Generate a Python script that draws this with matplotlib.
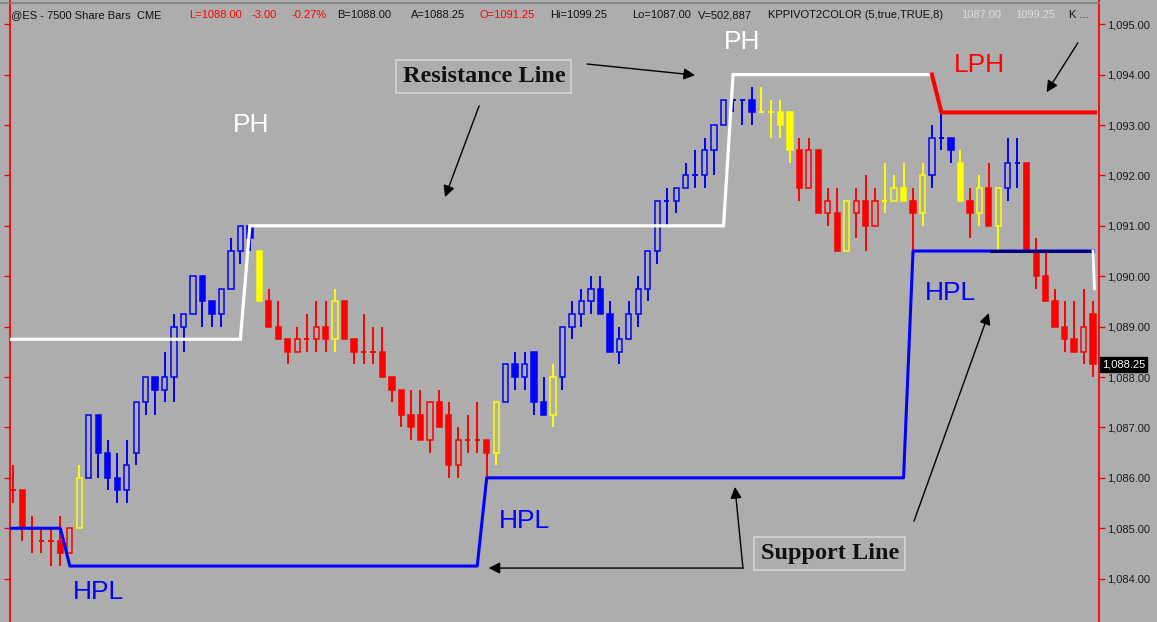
import numpy as np
import matplotlib.pyplot as plt
from matplotlib.patches import Rectangle
from matplotlib.lines import Line2D
from matplotlib import transforms

# bars (7500 share bars, @ES)
opens = [1085.75, 1085.75, 1085.0, 1084.75, 1084.75, 1084.75, 1084.5, 1085.0, 1086.0, 1087.25,
         1086.5, 1086.0, 1085.75, 1086.5, 1087.5, 1088.0, 1087.75, 1088.0, 1089.0, 1089.25,
         1090.0, 1089.5, 1089.25, 1089.75, 1090.5, 1091.0, 1090.5, 1089.5, 1089.0, 1088.75,
         1088.5, 1088.75, 1088.75, 1089.0, 1088.75, 1089.5, 1088.75, 1088.5, 1088.5, 1088.5,
         1088.0, 1087.75, 1087.25, 1087.25, 1086.75, 1087.5, 1087.25, 1086.25, 1086.75, 1086.75,
         1086.75, 1086.5, 1087.5, 1088.25, 1088.0, 1088.5, 1087.5, 1087.25, 1088.0, 1089.0,
         1089.25, 1089.5, 1089.75, 1089.25, 1088.5, 1088.75, 1089.25, 1089.75, 1090.5, 1091.5,
         1091.5, 1091.75, 1092.0, 1092.0, 1092.5, 1093.0, 1093.5, 1093.5, 1093.5, 1093.25,
         1093.25, 1093.25, 1093.25, 1092.5, 1091.75, 1092.5, 1091.25, 1091.25, 1090.5, 1091.25,
         1091.5, 1091.0, 1091.5, 1091.5, 1091.75, 1091.5, 1091.25, 1092.0, 1092.75, 1092.75,
         1092.25, 1091.5, 1091.25, 1091.75, 1091.0, 1091.75, 1092.25, 1092.25, 1090.5, 1090.0,
         1089.5, 1089.0, 1088.75, 1088.5, 1089.25]
highs = [1086.25, 1085.75, 1085.25, 1085.0, 1085.0, 1085.25, 1085.0, 1086.25, 1087.25, 1087.25,
         1086.75, 1086.5, 1086.75, 1087.5, 1088.0, 1088.0, 1088.5, 1089.25, 1089.25, 1090.0,
         1090.0, 1089.5, 1089.75, 1090.75, 1091.0, 1091.0, 1090.5, 1089.75, 1089.5, 1088.75,
         1089.0, 1089.25, 1089.5, 1089.5, 1089.75, 1089.5, 1088.75, 1089.25, 1089.0, 1089.0,
         1088.0, 1087.75, 1087.75, 1087.75, 1087.5, 1087.75, 1087.5, 1087.0, 1087.25, 1087.5,
         1086.75, 1087.5, 1088.25, 1088.5, 1088.5, 1088.5, 1088.0, 1088.25, 1089.0, 1089.5,
         1089.75, 1090.0, 1090.0, 1089.5, 1089.0, 1089.5, 1090.0, 1090.5, 1091.5, 1091.75,
         1091.75, 1092.25, 1092.5, 1092.75, 1093.0, 1093.5, 1093.5, 1093.5, 1093.75, 1093.75,
         1093.5, 1093.5, 1093.25, 1092.75, 1092.75, 1092.5, 1091.75, 1091.75, 1091.5, 1091.75,
         1092.0, 1091.75, 1092.25, 1092.0, 1092.25, 1091.75, 1092.25, 1093.0, 1093.25, 1092.75,
         1092.5, 1091.75, 1092.0, 1092.25, 1091.75, 1092.75, 1092.75, 1092.25, 1090.75, 1090.5,
         1089.75, 1089.5, 1089.5, 1089.75, 1089.5]
lows = [1085.5, 1084.75, 1084.5, 1084.5, 1084.25, 1084.25, 1084.5, 1085.0, 1086.0, 1086.0,
        1085.75, 1085.5, 1085.5, 1086.25, 1087.25, 1087.25, 1087.5, 1087.5, 1088.5, 1089.25,
        1089.0, 1089.0, 1089.0, 1089.75, 1090.25, 1090.5, 1089.5, 1089.0, 1088.75, 1088.25,
        1088.5, 1088.5, 1088.5, 1088.5, 1088.5, 1088.75, 1088.25, 1088.25, 1088.25, 1088.0,
        1087.5, 1087.0, 1086.75, 1086.75, 1086.5, 1087.0, 1086.0, 1086.0, 1086.5, 1086.5,
        1086.0, 1086.25, 1087.5, 1087.75, 1087.75, 1087.25, 1087.25, 1087.0, 1087.75, 1088.75,
        1089.0, 1089.25, 1089.25, 1088.5, 1088.25, 1088.75, 1089.0, 1089.5, 1090.25, 1091.0,
        1091.25, 1091.75, 1091.75, 1091.75, 1092.0, 1093.0, 1093.25, 1093.0, 1093.0, 1093.25,
        1092.75, 1092.75, 1092.25, 1091.5, 1091.75, 1091.25, 1091.0, 1090.5, 1090.5, 1090.75,
        1090.5, 1091.0, 1091.25, 1091.5, 1091.5, 1090.5, 1091.0, 1091.75, 1092.5, 1092.25,
        1091.5, 1090.75, 1091.0, 1091.0, 1090.5, 1091.5, 1091.75, 1090.5, 1089.75, 1089.5,
        1089.0, 1088.5, 1088.5, 1088.25, 1088.0]
closes = [1085.75, 1085.0, 1085.0, 1084.75, 1084.75, 1084.5, 1085.0, 1086.0, 1087.25, 1086.5,
          1086.0, 1085.75, 1086.25, 1087.5, 1088.0, 1087.75, 1088.0, 1089.0, 1089.25, 1090.0,
          1089.5, 1089.25, 1089.75, 1090.5, 1091.0, 1090.75, 1089.5, 1089.0, 1088.75, 1088.5,
          1088.75, 1088.75, 1089.0, 1088.75, 1089.5, 1088.75, 1088.5, 1088.5, 1088.5, 1088.0,
          1087.75, 1087.25, 1087.0, 1086.75, 1087.5, 1087.0, 1086.25, 1086.75, 1086.75, 1086.75,
          1086.5, 1087.5, 1088.25, 1088.0, 1088.25, 1087.5, 1087.25, 1088.0, 1089.0, 1089.25,
          1089.5, 1089.75, 1089.25, 1088.5, 1088.75, 1089.25, 1089.75, 1090.5, 1091.5, 1091.5,
          1091.75, 1092.0, 1092.0, 1092.5, 1093.0, 1093.5, 1093.5, 1093.5, 1093.25, 1093.25,
          1093.25, 1093.0, 1092.5, 1091.75, 1092.5, 1091.25, 1091.5, 1090.5, 1091.5, 1091.5,
          1091.0, 1091.5, 1091.5, 1091.75, 1091.5, 1091.25, 1092.0, 1092.75, 1092.75, 1092.5,
          1091.5, 1091.25, 1091.75, 1091.0, 1091.75, 1092.25, 1092.25, 1090.5, 1090.0, 1089.5,
          1089.0, 1088.75, 1088.5, 1089.0, 1088.25]
# KPPIVOT2COLOR bar colours: r = red, y = yellow, b = blue
bar_colors = ("rrrrrrr" "y" "bbbbbbbbbbbbbbbbbb" "y" "rrrrrrr" "y" "rrrrrrrrrrrrrrrr" "y"
              "bbbbb" "y" "bbbbbbbbbbbbbbbbbbbbb" "yyyy" "rrrrr" "y" "rrr" "yyy" "r" "y"
              "bbb" "y" "r" "y" "r" "y" "bb" "rrrrrrrr")
assert len(bar_colors) == len(opens) == len(highs) == len(lows) == len(closes)

# pivot lines (bar index, price)
res_x = [-0.5, 24, 25, 75, 76, 97]
res_y = [1088.75, 1088.75, 1091.0, 1091.0, 1094.0, 1094.0]
lph_x = [97, 98, 114.2]
lph_y = [1094.0, 1093.25, 1093.25]
sup_x = [-0.5, 5, 6, 49, 50, 94, 95, 114]
sup_y = [1085.0, 1085.0, 1084.25, 1084.25, 1086.0, 1086.0, 1090.5, 1090.5]
navy_x = [103.2, 114]
navy_y = [1090.5, 1090.5]
tail_x = [114.0, 114.15]
tail_y = [1090.5, 1089.75]

price_ticks = [1084, 1085, 1086, 1087, 1088, 1089, 1090, 1091, 1092, 1093, 1094, 1095]
last_price = 1088.25

header_parts = ["@ES - 7500 Share Bars  CME", "L=1088.00", "-3.00", "-0.27%", "B=1088.00",
                "A=1088.25", "O=1091.25", "Hi=1099.25", "Lo=1087.00", "V=502,887",
                "KPPIVOT2COLOR (5,true,TRUE,8)", "1087.00", "1099.25", "K ..."]
header_x = [11, 189, 252, 292, 337, 411, 480, 550, 632, 698, 768, 961, 1015, 1069]
header_col = ["#111111", "red", "red", "red", "#111111", "#111111", "red", "#111111",
              "#111111", "#111111", "#111111", "#dcdcdc", "#dcdcdc", "#111111"]

bg = "#adadad"
cmap = {"r": "#ff0000", "y": "#ffff00", "b": "#0000ff"}
W, H = 1157, 622

fig = plt.figure(figsize=(W / 100, H / 100), dpi=100, facecolor=bg)
ax = fig.add_axes([10 / W, 0, 1089 / W, 1])
ax.set_facecolor(bg)
ax.set_xlim(-0.317, 114.63)
ax.set_ylim(1083.14, 1095.48)

for p in price_ticks:
    ax.axhline(p, color="#b0b0b0", lw=0.5, zorder=0)

bw = 0.56
for i in range(len(opens)):
    o, h, l, c = opens[i], highs[i], lows[i], closes[i]
    col = cmap[bar_colors[i]]
    top, bot = max(o, c), min(o, c)
    if c == o:
        ax.vlines(i, l, h, color=col, lw=1.4, zorder=2)
        ax.hlines(o, i - bw / 2, i + bw / 2, color=col, lw=1.4, zorder=2)
        continue
    if h > top:
        ax.vlines(i, top, h, color=col, lw=1.4, zorder=2)
    if l < bot:
        ax.vlines(i, l, bot, color=col, lw=1.4, zorder=2)
    face = "none" if c > o else col
    ax.add_patch(Rectangle((i - bw / 2, bot), bw, top - bot, facecolor=face,
                           edgecolor=col, lw=1.1, zorder=3))

ax.plot(res_x, res_y, color="white", lw=2.3, zorder=4, solid_joinstyle="miter")
ax.plot(lph_x, lph_y, color="#ff0000", lw=2.9, zorder=4)
ax.plot(sup_x, sup_y, color="#0000ff", lw=2.2, zorder=4)
ax.plot(navy_x, navy_y, color="#00007a", lw=2.2, zorder=4)
ax.plot(tail_x, tail_y, color="white", lw=2.0, zorder=4)

lab = dict(fontsize=19, family="Liberation Sans", ha="center", va="center", zorder=6)
ax.text(25.1, 1093.0, "PH", color="white", **lab)
ax.text(77.0, 1094.65, "PH", color="white", **lab)
ax.text(102.0, 1094.2, "LPH", color="#ff0000", **lab)
ax.text(9.0, 1083.73, "HPL", color="#0000ff", **lab)
ax.text(54.0, 1085.14, "HPL", color="#0000ff", **lab)
ax.text(98.9, 1089.67, "HPL", color="#0000ff", **lab)

box = dict(boxstyle="square,pad=0.25", facecolor=bg, edgecolor="#d4d4d4", lw=1.2)
ax.text(49.7, 1093.97, "Resistance Line", fontsize=17.5, family="Liberation Serif",
        weight="bold", color="#111111", ha="center", va="center", bbox=box, zorder=6)
ax.text(86.2, 1084.5, "Support Line", fontsize=17.5, family="Liberation Serif",
        weight="bold", color="#111111", ha="center", va="center", bbox=box, zorder=6)

arrows = [((60.6, 1094.21), (72.0, 1093.99)),
          ((49.2, 1093.38), (45.6, 1091.57)),
          ((112.4, 1094.63), (109.1, 1093.65)),
          ((77.05, 1084.21), (76.2, 1085.82)),
          ((77.05, 1084.21), (50.2, 1084.21)),
          ((95.1, 1085.14), (103.0, 1089.27))]
for start, end in arrows:
    ax.annotate("", xy=end, xytext=start, zorder=6,
                arrowprops=dict(arrowstyle="-|>", color="black", lw=1.0,
                                mutation_scale=17, shrinkA=0, shrinkB=0))

for s in ["top", "bottom"]:
    ax.spines[s].set_visible(False)
for s in ["left", "right"]:
    ax.spines[s].set_color("red")
    ax.spines[s].set_linewidth(1.3)
ax.set_xticks([])
ax.set_yticks(price_ticks)
ax.set_yticklabels([f"{p:,.2f}" for p in price_ticks])
ax.tick_params(axis="y", direction="out", length=4, width=1, color="red",
               left=True, right=True, labelleft=False, labelright=True,
               labelsize=8, labelcolor="#1a1a1a", pad=2)
for t in ax.get_yticklabels():
    t.set_family("Liberation Sans")

# last price flag
tr = transforms.blended_transform_factory(fig.transFigure, ax.transData)
fig.text(1102 / W, last_price, f"{last_price:,.2f}", transform=tr, fontsize=8,
         family="Liberation Sans", color="white", va="center", ha="left",
         bbox=dict(boxstyle="square,pad=0.2", facecolor="black", edgecolor="black"))

fig.add_artist(Line2D([0, 1099 / W], [1 - 3 / H] * 2, color="#808080", lw=1.2))
for txt, x, col in zip(header_parts, header_x, header_col):
    fig.text(x / W, 1 - 15 / H, txt, color=col, fontsize=8, family="Liberation Sans",
             ha="left", va="center")

fig.savefig("out.png", dpi=100, facecolor=bg)
